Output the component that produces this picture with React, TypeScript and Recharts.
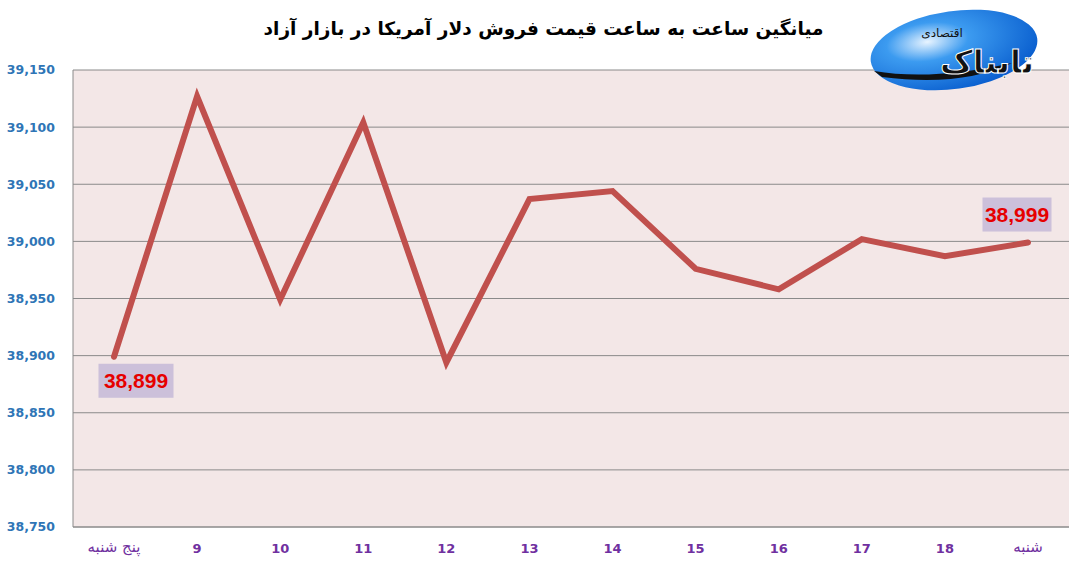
import { LineChart, Line, XAxis, YAxis, CartesianGrid, LabelList } from 'recharts';

const days = ['پنج شنبه', '9', '10', '11', '12', '13', '14', '15', '16', '17', '18', 'شنبه'];
const prices = [38899, 39127, 38949, 39104, 38894, 39037, 39044, 38976, 38958, 39002, 38987, 38999];
const yTicks = [38750, 38800, 38850, 38900, 38950, 39000, 39050, 39100, 39150];
const labelledIdx = [0, 11];

const title = 'میانگین ساعت به ساعت قیمت فروش دلار آمریکا در بازار آزاد';

const chartData = days.map((day, i) => ({ day, price: prices[i] }));

const fmt = (v: number) => v.toLocaleString('en-US');

const PriceLabel = (props: any) => {
  const { x, y, index, value } = props;
  if (!labelledIdx.includes(index)) return null;
  // first label sits below-right of the point, last one above-left
  const first = index === 0;
  const w = first ? 75 : 69;
  const h = 34;
  const cx = first ? x + 22 : x - 11;
  const cy = first ? y + 24 : y - 28;
  return (
    <g>
      <rect x={cx - w / 2} y={cy - h / 2} width={w} height={h} fill="#CCC0DA" />
      <text
        x={cx}
        y={cy}
        textAnchor="middle"
        dominantBaseline="central"
        fontFamily="Liberation Sans, Arial, sans-serif"
        fontWeight="bold"
        fontSize={21}
        fill="#E60000"
      >
        {fmt(value)}
      </text>
    </g>
  );
};

const DayTick = (props: any) => {
  const { x, y, payload } = props;
  const persian = isNaN(Number(payload.value));
  return (
    <text
      x={x}
      y={y}
      dy={persian ? 9 : 10}
      textAnchor="middle"
      fontFamily="DejaVu Sans, sans-serif"
      fontWeight={persian ? 'normal' : 'bold'}
      fontSize={persian ? 15 : 13}
      fill="#7030A0"
    >
      {payload.value}
    </text>
  );
};

function Logo() {
  return (
    <svg width={190} height={95} style={{ position: 'absolute', left: 862, top: 3 }}>
      <defs>
        <radialGradient id="logoGrad" cx="35%" cy="35%" r="70%">
          <stop offset="0%" stopColor="#E8F4FF" />
          <stop offset="35%" stopColor="#3C9BF0" />
          <stop offset="100%" stopColor="#0A5FCF" />
        </radialGradient>
      </defs>
      <ellipse cx={92} cy={47} rx={84} ry={39} fill="url(#logoGrad)" transform="rotate(-8 92 47)" />
      <path d="M12 68 Q70 78 150 60 Q100 84 20 74 Z" fill="#111" />
      <text
        x={125}
        y={70}
        textAnchor="middle"
        fontFamily="DejaVu Sans, sans-serif"
        fontWeight="bold"
        fontSize={32}
        fill="#111"
        stroke="#fff"
        strokeWidth={1}
      >
        تابناک
      </text>
      <text x={80} y={34} textAnchor="middle" fontFamily="DejaVu Sans, sans-serif" fontSize={12} fill="#111">
        اقتصادی
      </text>
    </svg>
  );
}

export default function App() {
  return (
    <div style={{ position: 'absolute', left: 0, top: 0, width: 1077, height: 569, background: '#fff' }}>
      <div
        style={{
          position: 'absolute',
          left: 0,
          top: 18,
          width: 1087,
          textAlign: 'center',
          fontFamily: 'DejaVu Sans, sans-serif',
          fontWeight: 'bold',
          fontSize: 18.5,
          color: '#000',
          direction: 'rtl',
        }}
      >
        {title}
      </div>
      <LineChart
        width={1077}
        height={569}
        data={chartData}
        margin={{ top: 70, right: 8, left: 0, bottom: 0 }}
      >
        <CartesianGrid vertical={false} stroke="#8A8A8A" fill="#F3E7E7" />
        <XAxis
          dataKey="day"
          height={42}
          padding={{ left: 41, right: 41 }}
          tickLine={false}
          tickSize={0}
          tickMargin={16}
          axisLine={{ stroke: '#8A8A8A' }}
          tick={<DayTick />}
          interval={0}
        />
        <YAxis
          width={73}
          domain={[38750, 39150]}
          ticks={yTicks}
          tickFormatter={fmt}
          tickLine={false}
          tickSize={16}
          axisLine={{ stroke: '#8A8A8A' }}
          tick={{ fontFamily: 'DejaVu Sans, sans-serif', fontWeight: 'bold', fontSize: 12.5, fill: '#2E75B6' }}
        />
        <Line
          type="linear"
          dataKey="price"
          stroke="#C0504D"
          strokeWidth={6}
          strokeLinecap="round"
          dot={false}
          activeDot={false}
          isAnimationActive={false}
        >
          <LabelList dataKey="price" content={<PriceLabel />} />
        </Line>
      </LineChart>
      <Logo />
    </div>
  );
}
